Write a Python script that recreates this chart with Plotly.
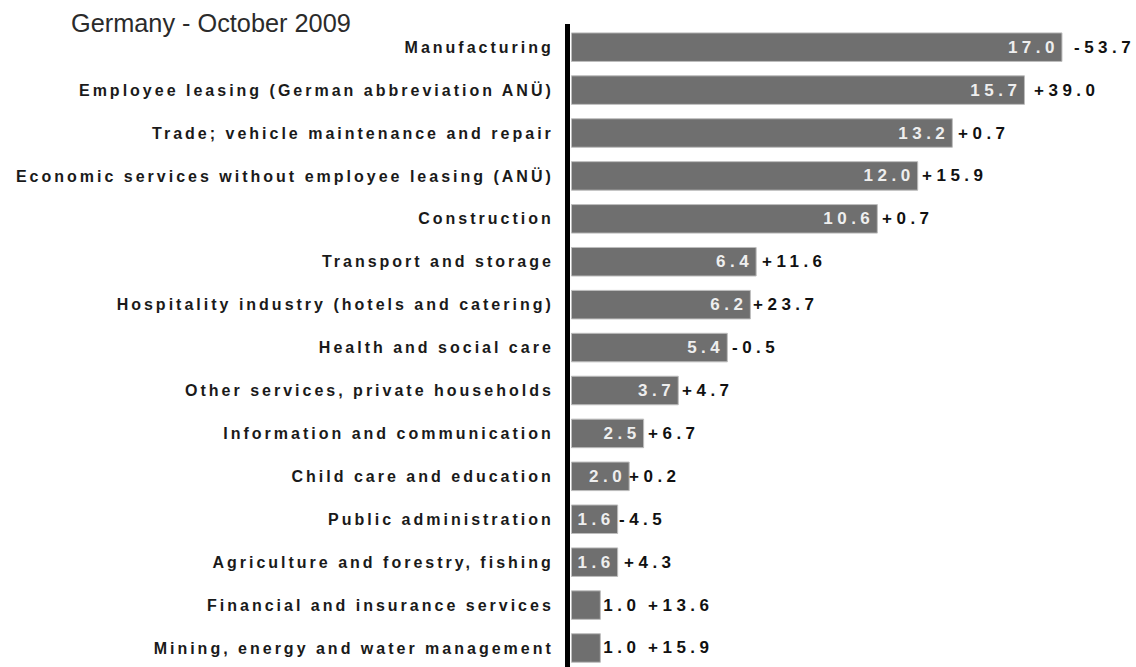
import plotly.graph_objects as go

# Registered unemployed by economic sector, Germany, October 2009
sectors = [
    "Manufacturing",
    "Employee leasing (German abbreviation ANÜ)",
    "Trade; vehicle maintenance and repair",
    "Economic services without employee leasing (ANÜ)",
    "Construction",
    "Transport and storage",
    "Hospitality industry (hotels and catering)",
    "Health and social care",
    "Other services, private households",
    "Information and communication",
    "Child care and education",
    "Public administration",
    "Agriculture and forestry, fishing",
    "Financial and insurance services",
    "Mining, energy and water management",
]
shares = [17.0, 15.7, 13.2, 12.0, 10.6, 6.4, 6.2, 5.4, 3.7, 2.5, 2.0, 1.6, 1.6, 1.0, 1.0]
changes = [-53.7, 39.0, 0.7, 15.9, 0.7, 11.6, 23.7, -0.5, 4.7, 6.7, 0.2, -4.5, 4.3, 13.6, 15.9]

# styling
FONT = "Arial, Liberation Sans, sans-serif"
BAR_COLOR = "#6f6f6f"
text_inside = [True] * 13 + [False] * 2
change_shift = [10, 8, 4, 2, 3, 4, 1, 3, 2, 2, -2, -1, 4, 46, 46]


def spaced(s, gap):
    return f'<span style="letter-spacing:{gap}px">{s}</span>'


fig = go.Figure()
fig.add_trace(go.Bar(
    x=shares,
    y=sectors,
    orientation="h",
    width=0.665,
    marker=dict(color=BAR_COLOR, line=dict(color="#bdbdbd", width=1)),
    text=[spaced(f"{v:.1f}", 4.5) for v in shares],
    textposition=["inside" if t else "outside" for t in text_inside],
    insidetextanchor="end",
    insidetextfont=dict(family=FONT, size=17, color="#eeeeee", weight="bold"),
    outsidetextfont=dict(family=FONT, size=17, color="#111111", weight="bold"),
    constraintext="none",
    cliponaxis=False,
    hoverinfo="skip",
))

for s, v, c, dx in zip(sectors, shares, changes, change_shift):
    fig.add_annotation(
        x=v, y=s, xref="x", yref="y",
        text=spaced(f"{c:+.1f}", 4.5),
        showarrow=False, xanchor="left", yanchor="middle", xshift=dx,
        font=dict(family=FONT, size=17, color="#111111", weight="bold"),
    )

fig.update_layout(
    width=1136, height=667,
    margin=dict(l=570, r=0, t=24, b=0),
    paper_bgcolor="white", plot_bgcolor="white",
    showlegend=False,
    title=dict(
        text="Germany - October 2009",
        font=dict(family=FONT, size=25.3, color="#2b2b2b"),
        x=71 / 1136, xanchor="left", xref="container",
        y=1 - 23 / 667, yanchor="middle", yref="container",
    ),
    xaxis=dict(range=[-0.052, 19.566], visible=False, fixedrange=True),
    yaxis=dict(
        type="category",
        categoryorder="array", categoryarray=sectors,
        range=[14.443, -0.54],
        tickmode="array", tickvals=sectors,
        ticktext=[spaced(s, 3.0) for s in sectors],
        tickfont=dict(family=FONT, size=16, color="#1a1a1a", weight="bold"),
        ticks="", ticklabelstandoff=8,
        showline=True, linewidth=5, linecolor="black",
        showgrid=False, zeroline=False, fixedrange=True,
    ),
)

fig.write_html("out.html")
